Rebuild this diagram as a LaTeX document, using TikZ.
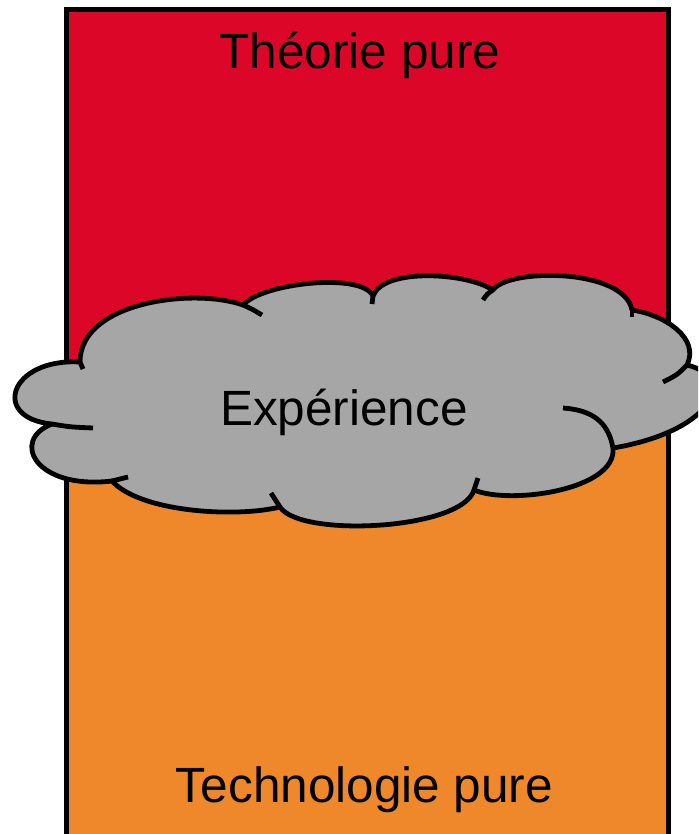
\documentclass[tikz,border=0pt]{standalone}
\usepackage{fontspec}
\setmainfont{Liberation Sans}
\definecolor{theorie}{RGB}{220,6,40}
\definecolor{techno}{RGB}{239,136,42}
\definecolor{nuage}{RGB}{166,166,166}
\begin{document}
\begin{tikzpicture}[x=1pt,y=1pt,font=\fontsize{49.5}{58}\selectfont]
\useasboundingbox (0,-834) rectangle (698,0);
\clip (0,-834) rectangle (698,0);
\fill[theorie] (66.5,-10) rectangle (668,-430);
\fill[techno] (66.5,-430) rectangle (668,-860);
\draw[line width=5pt] (66.5,-860) -- (66.5,-10) -- (668,-10) -- (668,-860);
\filldraw[fill=nuage, line width=4.8pt, line join=round] (80,-362)
  .. controls (80,-302) and (193,-287.5) .. (243,-305)
  .. controls (262,-283) and (362,-272) .. (373,-296)
  .. controls (383,-268) and (465,-272) .. (493,-290)
  .. controls (508,-268) and (624,-268) .. (632,-310)
  .. controls (665,-315) and (700,-338) .. (687,-365)
  .. controls (740,-378) and (710,-432) .. (613,-448)
  .. controls (617,-490) and (510,-505) .. (474,-490)
  .. controls (462,-530) and (300,-538) .. (280,-507)
  .. controls (235,-518) and (140,-512) .. (112,-481)
  .. controls (35,-490) and (10,-440) .. (52,-424)
  .. controls (-10,-418) and (10,-358) .. (80,-362) -- cycle;
\draw[line width=4.8pt] (80,-362) -- (83,-369);
\draw[line width=4.8pt] (243,-305) .. controls (252,-309) .. (262,-315);
\draw[line width=4.8pt] (373,-296) -- (372,-304);
\draw[line width=4.8pt] (493,-290) .. controls (487,-294) .. (483,-300);
\draw[line width=4.8pt] (632,-310) -- (632,-317);
\draw[line width=4.8pt] (687,-365) .. controls (677,-375) .. (663,-382);
\draw[line width=4.8pt] (613,-448) .. controls (608,-420) and (590,-410) .. (563,-408);
\draw[line width=4.8pt] (474,-490) -- (478,-478);
\draw[line width=4.8pt] (280,-507) -- (271,-493);
\draw[line width=4.8pt] (112,-481) -- (128,-477);
\draw[line width=4.8pt] (52,-424) .. controls (70,-427) .. (93,-428);
\node[anchor=base, inner sep=0pt] (theorie) at (360,-69) {Théorie pure};
\node[anchor=base, inner sep=0pt] (experience) at (344,-425) {Expérience};
\node[anchor=base, inner sep=0pt] (techno) at (364.5,-802) {Technologie pure};
\end{tikzpicture}
\end{document}
